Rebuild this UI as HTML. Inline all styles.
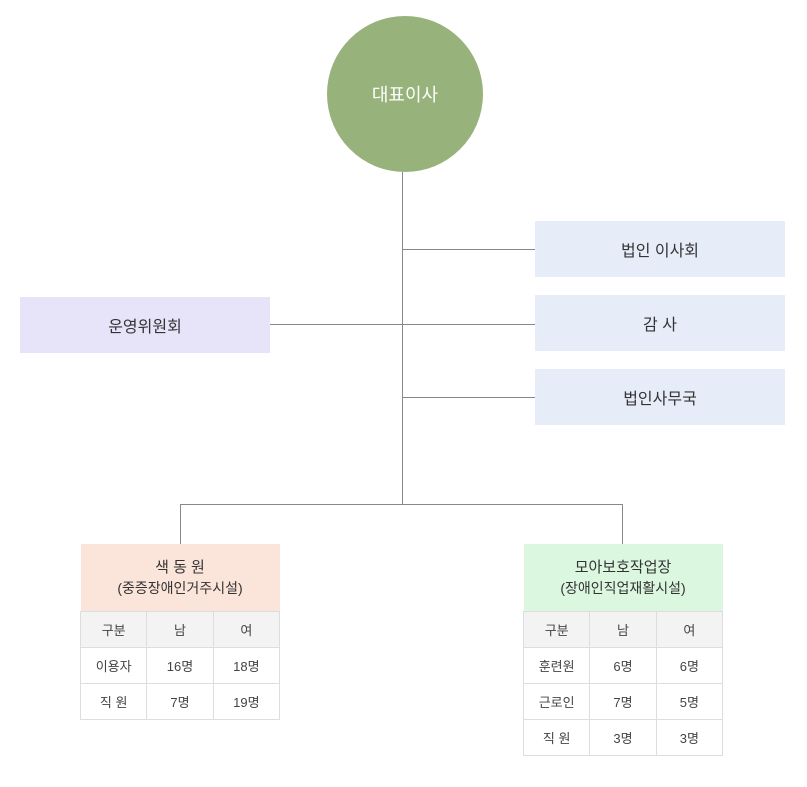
<!DOCTYPE html><html><head><meta charset="utf-8"><style>
body{margin:0;width:807px;height:787px;background:#fff;position:relative;font-family:"Liberation Sans","Noto Sans CJK KR",sans-serif;overflow:hidden}
.a{position:absolute}
.l{position:absolute;background:#888}
.box{position:absolute;display:flex;align-items:center;justify-content:center;font-size:16px;color:#333}
table{position:absolute;border-collapse:collapse;width:200px;font-size:13px;color:#444}
td{border:1px solid #ddd;text-align:center;height:35px;width:66px;padding:0}
th{height:67px;font-weight:normal;font-size:15px;color:#333;line-height:21px;padding:0;border:none}
tr.h td{background:#f3f3f3}
</style></head><body>
<div class="a" style="left:327px;top:16px;width:156px;height:156px;border-radius:50%;background:#97b27a;color:#fff;font-size:18px;display:flex;align-items:center;justify-content:center">대표이사</div>
<div class="l" style="left:402px;top:172px;width:1px;height:332px"></div>
<div class="l" style="left:402px;top:249px;width:133px;height:1px"></div>
<div class="l" style="left:270px;top:324px;width:265px;height:1px"></div>
<div class="l" style="left:402px;top:397px;width:133px;height:1px"></div>
<div class="l" style="left:180px;top:504px;width:443px;height:1px"></div>
<div class="l" style="left:180px;top:504px;width:1px;height:40px"></div>
<div class="l" style="left:622px;top:504px;width:1px;height:40px"></div>
<div class="box" style="left:535px;top:221px;width:250px;height:56px;background:#e6edf9">법인 이사회</div>
<div class="box" style="left:535px;top:295px;width:250px;height:56px;background:#e6edf9">감 사</div>
<div class="box" style="left:535px;top:369px;width:250px;height:56px;background:#e6edf9">법인사무국</div>
<div class="box" style="left:20px;top:297px;width:250px;height:56px;background:#e7e3f8">운영위원회</div>
<table style="left:80px;top:544px"><tr><th colspan="3" style="background:#fbe4da">색 동 원<br><span style="font-size:14px">(중증장애인거주시설)</span></th></tr>
<tr class="h"><td>구분</td><td>남</td><td>여</td></tr>
<tr><td>이용자</td><td>16명</td><td>18명</td></tr>
<tr><td>직 원</td><td>7명</td><td>19명</td></tr></table>
<table style="left:523px;top:544px"><tr><th colspan="3" style="background:#dcf7e0">모아보호작업장<br><span style="font-size:14px">(장애인직업재활시설)</span></th></tr>
<tr class="h"><td>구분</td><td>남</td><td>여</td></tr>
<tr><td>훈련원</td><td>6명</td><td>6명</td></tr>
<tr><td>근로인</td><td>7명</td><td>5명</td></tr>
<tr><td>직 원</td><td>3명</td><td>3명</td></tr></table>
</body></html>
